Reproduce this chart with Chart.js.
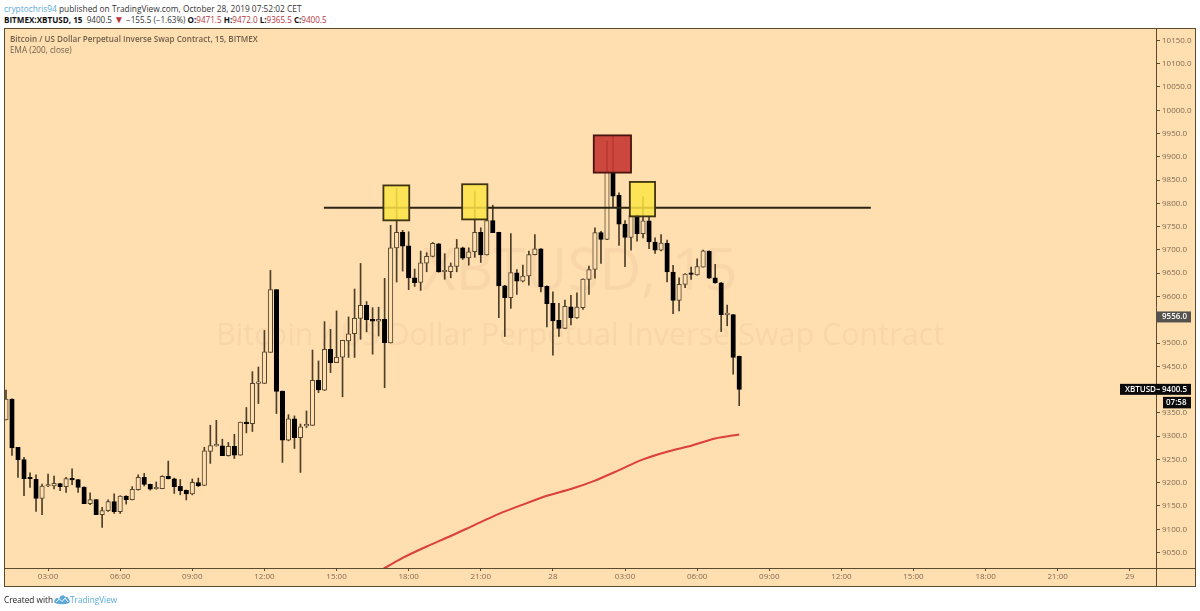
<!DOCTYPE html>
<html>
<head>
<meta charset="utf-8">
<style>
  html, body { margin: 0; padding: 0; background: #fff; }
  body { width: 1200px; height: 611px; position: relative; overflow: hidden; font-family: "Open Sans", sans-serif; }
  canvas { position: absolute; left: 0; top: 0; }
  .txt { position: absolute; left: 4px; white-space: nowrap; color: #333; font-size: 8.25px; }
  .blue { color: #5aa9d8; }
  .red { color: #b5333a; }
</style>
<script src="https://cdn.jsdelivr.net/npm/chart.js@4/dist/chart.umd.min.js"></script>
</head>
<body>
<div class="txt" style="top:3px;font-size:8.35px"><span class="blue">cryptochris94</span> published on TradingView.com, October 28, 2019 07:52:02 CET</div>
<div class="txt" style="top:14px;font-size:8.1px"><b style="color:#111">BITMEX:XBTUSD, 15</b>&nbsp; 9400.5 <span class="red" style="font-size:10px;line-height:8px">▼</span> −155.5 (−1.63%) <b style="color:#111">O:</b><span class="red">9471.5</span> <b style="color:#111">H:</b><span class="red">9472.0</span> <b style="color:#111">L:</b><span class="red">9365.5</span> <b style="color:#111">C:</b><span class="red">9400.5</span></div>
<canvas id="chart" width="1200" height="611"></canvas>
<div class="txt" style="top:594px;color:#222">Created with</div>
<svg style="position:absolute;left:54px;top:594px" width="16" height="11" viewBox="0 0 16 11"><path d="M0 8 C1 4 3 3 5 5 C6 1 10 0 11 3 C13 2 15 4 16 8 C14 11 2 11 0 8Z" fill="#5aa9d8"/><path d="M2 8 L5.5 5 L8 7.5 L11 4 L14 8" fill="none" stroke="#fff" stroke-width="1"/></svg>
<div class="txt blue" style="top:594px;left:70px">TradingView</div>
<script>
const opens = [9335,9379.5,9276,9249.5,9209,9207,9166.5,9193,9193,9198,9191.5,9209,9206.5,9190.5,9155,9164,9131.5,9140,9159.5,9138,9171,9163.5,9185,9211.5,9196.5,9187,9187,9213.5,9208.5,9192,9183.5,9176,9200,9194,9267,9279,9279,9258,9278,9259,9330,9327,9413.5,9413.5,9480,9615,9397,9291.5,9337,9296.5,9322,9323,9420,9398.5,9486.5,9458,9469.5,9504.5,9520,9553,9581,9551,9547,9551,9500,9704.5,9737.5,9709,9640,9630,9671.5,9686,9713,9653,9653,9664.5,9704.5,9683,9696,9737.5,9689,9763,9737.5,9623,9597.5,9651,9633,9644,9690,9702.5,9622,9585,9549,9531.5,9577.5,9554,9576,9636.5,9658,9737,9722.5,9867,9817,9755.5,9727,9774,9735,9762.5,9717,9699.5,9714.5,9652.5,9591.5,9626,9649.5,9646.5,9663,9697.5,9640,9629.5,9561,9561,9471.5];
const highs = [9399,9380,9276,9254.5,9221,9217,9197,9218.5,9214,9198.5,9211.5,9230,9207,9191,9178,9164,9147,9163,9176,9172,9172,9191.5,9217,9220,9197,9201.5,9215,9246.5,9210,9207,9184.5,9208,9210,9276,9323.5,9334,9293.5,9286.5,9304,9330,9361.5,9438.5,9448.5,9527,9656,9615,9397,9346,9343.5,9326,9354,9485,9461.5,9546,9529.5,9569,9506,9556,9616,9671,9589,9576,9577,9639,9753,9832,9742,9739,9659,9697.5,9694,9716,9714,9692,9672,9722.5,9706,9704.5,9825,9747.5,9767,9796,9738,9624,9735,9658,9667.5,9697.5,9733,9703,9623,9610,9585,9592.5,9602.5,9608,9638,9665.5,9747.5,9740,9933.5,9944,9822.5,9763,9774,9775,9814,9771,9726,9733,9721,9667,9640,9649,9663,9681,9699.5,9698,9669,9630,9581.5,9561,9472];
const lows = [9335,9258.5,9211.5,9172,9190,9138.5,9131.5,9191.5,9186.5,9183,9179,9196,9179,9155,9153,9131.5,9104,9138.5,9134,9134,9154,9163,9184,9193,9184,9186,9187,9208,9177,9174,9163,9174,9191.5,9194,9241.5,9278.5,9258,9257,9252,9259,9307,9310,9370,9413,9480,9348.5,9243.5,9290,9273.5,9222,9318.5,9323,9393.5,9398,9436.5,9458,9384.5,9469,9469,9508,9524,9476,9515,9404,9500,9631,9654.5,9614.5,9621.5,9613,9653,9685,9652,9637,9640,9653,9679.5,9667,9684,9673,9689,9737,9554.5,9514,9574.5,9604.5,9631.5,9624.5,9689,9610,9534.5,9474,9514,9531,9539,9553,9572,9604.5,9639.5,9671,9722,9790.5,9709.5,9664,9699.5,9719,9726,9702.5,9692.5,9698,9631,9563,9569,9619,9636.5,9646,9663,9639,9628,9524.5,9537,9433,9365.5];
const closes = [9379.5,9274.5,9249.5,9208.5,9208.5,9166.5,9193,9193,9198.5,9191.5,9209,9206,9190,9155,9164,9131.5,9140,9159.5,9138,9171,9163.5,9186,9211.5,9196.5,9186,9187,9213.5,9208.5,9191.5,9183,9176,9201,9193.5,9268.5,9279.5,9279,9258,9278,9259,9330,9327,9413.5,9413.5,9481,9615,9396,9291.5,9337,9296.5,9320,9323,9420,9399.5,9486.5,9458,9469.5,9506,9520,9553,9581,9550,9547,9551,9501,9704.5,9737.5,9708,9640,9629.5,9672.5,9686,9714,9652.5,9653,9665,9704.5,9682.5,9696,9737.5,9689,9763,9737,9622.5,9597.5,9651.5,9633,9644,9690,9702.5,9621,9584.5,9547.5,9531.5,9579,9554,9577,9637.5,9658,9737,9722.5,9867,9815.5,9755.5,9727,9774,9735,9762.5,9717,9699.5,9714.5,9652.5,9591.5,9626,9648,9647.5,9664,9698,9639.5,9629.5,9561,9561,9469,9400.5];

const emaIndex = [62,66,70,74,78,82,86,90,94,98,102,106,110,114,118,122];
const emaValues = [9009,9038.5,9063,9085.5,9109.5,9133,9153,9172,9186.5,9204.5,9227,9250,9266.5,9279.5,9295,9303.5];

const timeTicks = [7,19,31,43,55,67,79,91,103,115,127,139,151,163,175,187];
const timeLabels = ["03:00","06:00","09:00","12:00","15:00","18:00","21:00","28","03:00","06:00","09:00","12:00","15:00","18:00","21:00","29"];
const priceTicks = [10150,10100,10050,10000,9950,9900,9850,9800,9750,9700,9650,9600,9550,9500,9450,9400,9350,9300,9250,9200,9150,9100,9050];

const levelX = [52.9, 143.9];
const levelPrice = [9790.5, 9790.5];
const boxes = [
  { x0: 62.8, x1: 67.1, top: 9838.5, bottom: 9763.5, fill: "rgba(253,228,70,0.85)", line: "#3d3412" },
  { x0: 75.9, x1: 80.1, top: 9841, bottom: 9765.5, fill: "rgba(253,228,70,0.85)", line: "#3d3412" },
  { x0: 97.8, x1: 104, top: 9946, bottom: 9866, fill: "rgba(198,55,50,0.9)", line: "#4a1510" },
  { x0: 103.8, x1: 108, top: 9846, bottom: 9772, fill: "rgba(253,228,70,0.85)", line: "#3d3412" }
];
const lastPrice = 9400.5;
const markPrice = 9556.0;

const bg = "#ffdeb0";
const axisCol = "#5a4a30";
const textCol = "#7d6c55";
const font = '"Open Sans", sans-serif';

const framePlugin = {
  id: "frame",
  beforeDraw(chart) {
    const ctx = chart.ctx;
    const a = chart.chartArea;
    ctx.save();
    ctx.fillStyle = bg;
    ctx.fillRect(a.left, a.top, 1196 - a.left, 587 - a.top);
    ctx.restore();
  },
  beforeDatasetsDraw(chart) {
    const ctx = chart.ctx;
    ctx.save();
    ctx.textAlign = "center";
    ctx.textBaseline = "middle";
    ctx.fillStyle = "rgba(130,85,30,0.05)";
    ctx.font = "58px " + font;
    ctx.fillText("XBTUSD, 15", 580, 273);
    ctx.font = "30.5px " + font;
    ctx.fillText("Bitcoin / US Dollar Perpetual Inverse Swap Contract", 580, 336);
    ctx.textAlign = "left";
    ctx.fillStyle = "#6e604c";
    ctx.font = "600 8.1px " + font;
    ctx.fillText("Bitcoin / US Dollar Perpetual Inverse Swap Contract, 15, BITMEX", 10, 40);
    ctx.font = "8.2px " + font;
    ctx.fillText("EMA (200, close)", 10, 51);
    ctx.restore();
  },
  afterDatasetsDraw(chart) {
    const ctx = chart.ctx;
    const xs = chart.scales.x;
    const ys = chart.scales.y;
    ctx.save();
    ctx.lineWidth = 1.8;
    boxes.forEach((b) => {
      const x = xs.getPixelForValue(b.x0);
      const y = ys.getPixelForValue(b.top);
      const w = xs.getPixelForValue(b.x1) - x;
      const h = ys.getPixelForValue(b.bottom) - y;
      ctx.fillStyle = b.fill;
      ctx.fillRect(x, y, w, h);
      ctx.strokeStyle = b.line;
      ctx.strokeRect(x, y, w, h);
    });
    ctx.restore();
  },
  afterDraw(chart) {
    const ctx = chart.ctx;
    const a = chart.chartArea;
    const ys = chart.scales.y;
    ctx.save();
    // frame and axis lines
    ctx.strokeStyle = axisCol;
    ctx.lineWidth = 1;
    ctx.strokeRect(4.5, 28.5, 1191, 558);
    ctx.beginPath();
    ctx.moveTo(a.right + 0.5, 28);
    ctx.lineTo(a.right + 0.5, 587);
    ctx.moveTo(4, a.bottom + 0.5);
    ctx.lineTo(1196, a.bottom + 0.5);
    ctx.stroke();
    // price badges
    ctx.textBaseline = "middle";
    ctx.font = "600 8px " + font;
    ctx.textAlign = "left";
    const markY = ys.getPixelForValue(markPrice);
    ctx.fillStyle = "#55524e";
    ctx.fillRect(a.right, markY - 5.5, 35, 11);
    ctx.fillStyle = "#fff";
    ctx.fillText(markPrice.toFixed(1), 1162, markY);
    const lastY = ys.getPixelForValue(lastPrice);
    ctx.fillStyle = "#0b0b0b";
    ctx.fillRect(1120, lastY - 5.5, 71, 11);
    ctx.fillRect(1163, lastY + 7.5, 28, 11.5);
    ctx.fillStyle = "#fff";
    ctx.fillText("XBTUSD", 1125, lastY);
    ctx.fillText(lastPrice.toFixed(1), 1162, lastY);
    ctx.fillText("07:58", 1166, lastY + 13);
    ctx.strokeStyle = "#fff";
    ctx.beginPath();
    ctx.moveTo(1156.5, lastY);
    ctx.lineTo(1160, lastY);
    ctx.stroke();
    ctx.restore();
  }
};

const wickData = highs.map((h, i) => ({ x: i, y: [lows[i], h] }));
const bodyData = opens.map((o, i) => ({ x: i, y: [Math.min(o, closes[i]), Math.max(o, closes[i])] }));
const bodyFill = opens.map((o, i) => (closes[i] >= o ? bg : "#000"));
const bodyLine = opens.map((o, i) => (closes[i] >= o ? "#54452e" : "#000"));

new Chart(document.getElementById("chart"), {
  type: "bar",
  data: {
    datasets: [
      { data: wickData, barThickness: 1, backgroundColor: "#4c3e28", order: 4, grouped: false },
      { data: bodyData, barThickness: 4.5, minBarLength: 1.5, backgroundColor: bodyFill, borderColor: bodyLine, borderWidth: 1, borderSkipped: false, order: 3, grouped: false },
      { type: "line", data: emaIndex.map((x, i) => ({ x, y: emaValues[i] })), borderColor: "#dc3f3c", borderWidth: 2, pointRadius: 0, tension: 0.25, order: 2 },
      { type: "line", data: levelX.map((x, i) => ({ x, y: levelPrice[i] })), borderColor: "#2a2415", borderWidth: 2, pointRadius: 0, order: 1 }
    ]
  },
  options: {
    responsive: false,
    animation: false,
    devicePixelRatio: 1,
    layout: { padding: { left: 4, top: 28, right: 4, bottom: 24 } },
    plugins: { legend: { display: false }, tooltip: { enabled: false } },
    scales: {
      x: {
        type: "linear",
        offset: false,
        min: -0.33,
        max: 191.35,
        afterFit(s) { s.height = 19; },
        afterBuildTicks(s) { s.ticks = timeTicks.map((value) => ({ value })); },
        grid: { drawOnChartArea: false, tickLength: 3, tickColor: axisCol, offset: false },
        border: { display: false },
        ticks: {
          autoSkip: false,
          maxRotation: 0,
          padding: 1,
          color: textCol,
          font: { family: font, size: 8 },
          callback: (v) => timeLabels[timeTicks.indexOf(v)]
        }
      },
      y: {
        position: "right",
        min: 9016.8,
        max: 10176.6,
        afterFit(s) { s.width = 40; },
        afterBuildTicks(s) { s.ticks = priceTicks.map((value) => ({ value })); },
        grid: { drawOnChartArea: false, tickLength: 4, tickColor: axisCol },
        border: { display: false },
        ticks: {
          autoSkip: false,
          padding: 2,
          color: textCol,
          font: { family: font, size: 8 },
          callback: (v) => v.toFixed(1)
        }
      }
    }
  },
  plugins: [framePlugin]
});
</script>
</body>
</html>
